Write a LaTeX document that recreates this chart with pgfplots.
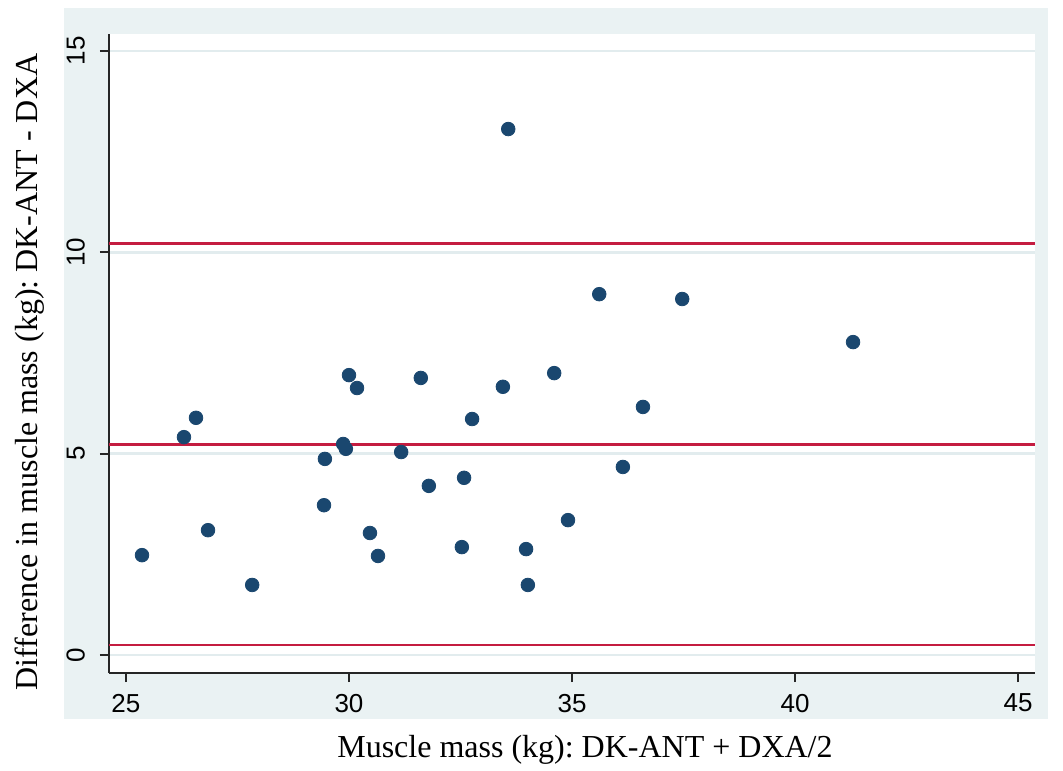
\documentclass[border=0pt]{standalone}
\usepackage{fontspec}
\setmainfont{Liberation Serif}
\newfontfamily\tickfont{Liberation Sans}
\usepackage{pgfplots}
\pgfplotsset{compat=1.18}
\usetikzlibrary{backgrounds}

\definecolor{bggray}{RGB}{234,242,243}
\definecolor{gridgray}{RGB}{226,236,238}
\definecolor{navy}{RGB}{26,71,111}
\definecolor{limred}{RGB}{196,28,64}

\begin{document}
\frenchspacing
\begin{tikzpicture}
\begin{axis}[
  name=ax,
  scale only axis,
  width=463pt, height=319.5pt,
  xmin=24.62, xmax=45.38,
  ymin=-0.447, ymax=15.42,
  xtick={25,30,35,40,45},
  ytick={0,5,10,15},
  axis lines*=left,
  axis line style={-, line width=0.9pt, black!85},
  tick align=outside,
  major tick length=4.5pt,
  tick style={line width=0.9pt, black!85},
  ymajorgrids,
  grid style={gridgray, line width=1.3pt},
  ticklabel style={font=\tickfont\fontsize{13}{15}\selectfont},
  /pgf/number format/assume math mode=true,
  xticklabel style={yshift=-2.5pt},
  yticklabel style={xshift=-4pt, rotate=90, anchor=south},
  xlabel={Muscle mass (kg): DK-ANT + DXA/2},
  ylabel={Difference in muscle mass (kg): DK-ANT - DXA},
  label style={font=\fontsize{16}{18}\selectfont},
  xlabel style={at={(rel axis cs:0.514,-0.12)}, anchor=center},
  ylabel style={at={(rel axis cs:-0.0853,0.471)}, anchor=center, rotate=0},
  clip=false,
]
% limits of agreement
\addplot [limred, line width=1.4pt] coordinates {(24.62,0.25) (45.38,0.25)};
\addplot [limred, line width=1.4pt] coordinates {(24.62,5.23) (45.38,5.23)};
\addplot [limred, line width=1.4pt] coordinates {(24.62,10.21) (45.38,10.21)};

\addplot [only marks, mark=*, mark size=3.4pt, navy, mark options={draw=navy, fill=navy}] coordinates {
  (25.36,2.48) (26.30,5.41) (26.57,5.89) (26.84,3.10) (27.83,1.74)
  (29.44,3.72) (29.46,4.87) (29.87,5.24) (29.93,5.12) (30.00,6.95)
  (30.18,6.63) (30.47,3.03) (30.65,2.46) (31.17,5.04) (31.61,6.88)
  (31.79,4.20) (32.53,2.68) (32.58,4.40) (32.76,5.86) (33.45,6.66)
  (33.57,13.06) (33.97,2.63) (34.01,1.74) (34.60,7.00) (34.91,3.35)
  (35.61,8.96) (36.14,4.67) (36.59,6.16) (37.47,8.84) (41.30,7.77)
};

\coordinate (bbl) at (rel axis cs:-0.1177,-0.1440);
\coordinate (btr) at (rel axis cs:1.0302,1.0532);
\coordinate (gbl) at (rel axis cs:-0.0486,-0.0720);
\coordinate (gtr) at (rel axis cs:1.0140,1.0407);
\coordinate (abl) at (rel axis cs:0,0);
\coordinate (atr) at (rel axis cs:1,1);
\end{axis}
\begin{scope}[on background layer]
  \fill[bggray] (gbl) rectangle (gtr);
  \fill[white] (abl) rectangle (atr);
\end{scope}
\path (bbl) rectangle (btr);
\end{tikzpicture}
\end{document}
